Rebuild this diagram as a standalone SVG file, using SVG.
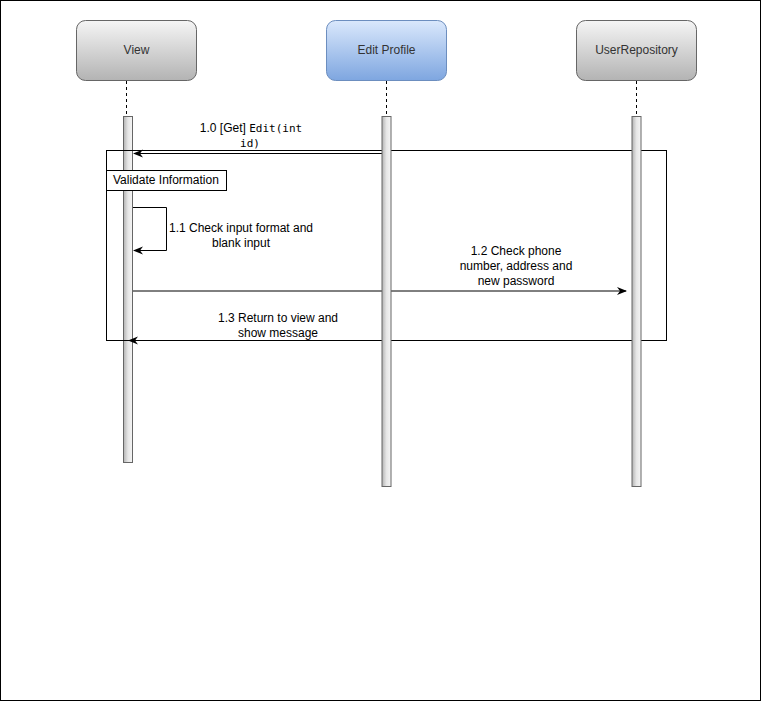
<svg xmlns="http://www.w3.org/2000/svg" width="761" height="701" viewBox="0 0 761 701">
<defs>
<linearGradient id="gGray" x1="0" y1="0" x2="0" y2="1"><stop offset="0" stop-color="#f5f5f5"/><stop offset="1" stop-color="#b3b3b3"/></linearGradient>
<linearGradient id="gBlue" x1="0" y1="0" x2="0" y2="1"><stop offset="0" stop-color="#dae8fc"/><stop offset="1" stop-color="#7ea6e0"/></linearGradient>
<linearGradient id="gBar" x1="0" y1="0" x2="1" y2="0"><stop offset="0" stop-color="#b3b3b3"/><stop offset="0.5" stop-color="#e6e6e6"/><stop offset="1" stop-color="#f5f5f5"/></linearGradient>
<marker id="arr" viewBox="0 0 10 10" refX="9" refY="5" markerWidth="10" markerHeight="10" markerUnits="userSpaceOnUse" orient="auto">
<path d="M0,1 L10,5 L0,9 L3,5 Z" fill="#000"/>
</marker>
<style>
.gray{fill:url(#gGray);stroke:#666666}
.blue{fill:url(#gBlue);stroke:#6c8ebf}
.bar{fill:url(#gBar);stroke:#666666;stroke-width:1}
.life{stroke:#000;stroke-dasharray:3 3;fill:none}
.nt{font-family:"Liberation Sans",Arial,sans-serif;font-size:12px;fill:#333333;text-anchor:middle}
.lbl{font-family:"Liberation Sans",Arial,sans-serif;font-size:12px;fill:#000;text-anchor:middle}
.mono{font-family:"DejaVu Sans Mono","Liberation Mono",monospace;font-size:11px}
.msg{stroke:#000;stroke-width:1;fill:none;marker-end:url(#arr)}
</style>
</defs>
<rect x="0.5" y="0.5" width="760" height="700" fill="#ffffff" stroke="#000000"/>

<g id="node-view">
<rect x="76.5" y="20.5" width="120" height="60" rx="9" class="gray"/>
<text x="136.5" y="54" class="nt">View</text>
<line x1="126.5" y1="81" x2="126.5" y2="116" class="life"/>
<rect x="123.5" y="116.5" width="9" height="346" class="bar"/>
</g>

<g id="frame">
<rect x="106.5" y="150.5" width="560" height="190" fill="none" stroke="#000"/>
<rect x="106.5" y="170.5" width="120" height="20" fill="#fff" stroke="#000"/>
<text x="113" y="184" class="lbl" style="text-anchor:start">Validate Information</text>
</g>

<g id="connectors">
<path d="M382,153.5 H134" class="msg"/>
<text x="251" y="132" class="lbl">1.0 [Get] <tspan class="mono">Edit(int</tspan></text>
<text x="250" y="147" class="lbl mono">id)</text>

<path d="M133,207.5 H166.5 V250.5 H134" class="msg"/>
<text x="241" y="232" class="lbl">1.1 Check input format and</text>
<text x="241" y="247" class="lbl">blank input</text>

<path d="M133,291 H626" class="msg"/>
<text x="516" y="255" class="lbl">1.2 Check phone</text>
<text x="516" y="270" class="lbl">number, address and</text>
<text x="516" y="285" class="lbl">new password</text>

<path d="M632,340.5 H129" class="msg"/>
<text x="278" y="322" class="lbl">1.3 Return to view and</text>
<text x="278" y="337" class="lbl">show message</text>
</g>

<g id="node-editprofile">
<rect x="326.5" y="20.5" width="120" height="60" rx="9" class="blue"/>
<text x="386.5" y="54" class="nt">Edit Profile</text>
<line x1="386.5" y1="81" x2="386.5" y2="116" class="life"/>
<rect x="382" y="116.5" width="9" height="370" class="bar"/>
</g>

<g id="node-userrepository">
<rect x="576.5" y="20.5" width="120" height="60" rx="9" class="gray"/>
<text x="636.5" y="54" class="nt">UserRepository</text>
<line x1="636.5" y1="81" x2="636.5" y2="116" class="life"/>
<rect x="632" y="116.5" width="9" height="370" class="bar"/>
</g>
</svg>
